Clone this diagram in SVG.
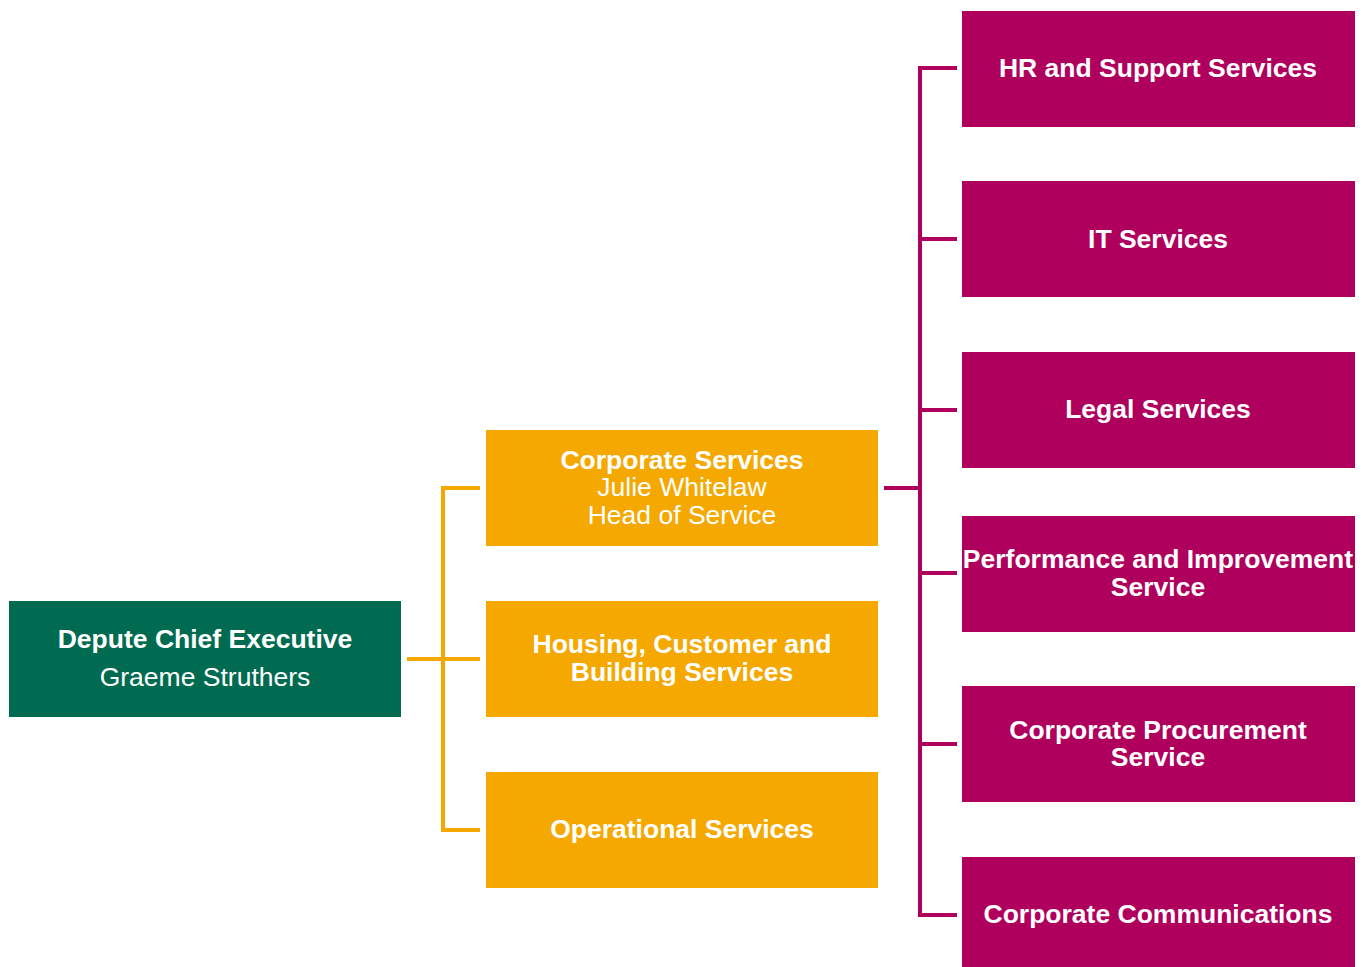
<svg xmlns="http://www.w3.org/2000/svg" width="1368" height="967" viewBox="0 0 1368 967">
<style>
.g{fill:#006b50}
.o{fill:#f5a800}
.m{fill:#b0005e}
text{font-family:"Liberation Sans",Arial,sans-serif;fill:#fff;text-anchor:middle;font-size:26.5px}
.b{font-weight:bold}
.oc{stroke:#f5a800;stroke-width:4;fill:none}
.mc{stroke:#b0005e;stroke-width:4;fill:none}
</style>
<rect width="1368" height="967" fill="#fff"/>
<g id="connectors">
<path class="oc" d="M407 659H443M480 488H443V830H480M443 659H480"/>
<path class="mc" d="M884 488H920M957 68H920V915H957M920 239H957M920 410H957M920 573H957M920 744H957"/>
</g>
<g id="dce"><rect class="g" x="9" y="601" width="392" height="116"/>
<text class="b" x="205" y="648">Depute Chief Executive</text>
<text x="205" y="686">Graeme Struthers</text></g>
<g id="corp"><rect class="o" x="486" y="430" width="392" height="116"/>
<text class="b" x="682" y="469">Corporate Services</text>
<text x="682" y="496">Julie Whitelaw</text>
<text x="682" y="524">Head of Service</text></g>
<g id="housing"><rect class="o" x="486" y="601" width="392" height="116"/>
<text class="b" x="682" y="653">Housing, Customer and</text>
<text class="b" x="682" y="681">Building Services</text></g>
<g id="ops"><rect class="o" x="486" y="772" width="392" height="116"/>
<text class="b" x="682" y="838">Operational Services</text></g>
<g id="hr"><rect class="m" x="962" y="11" width="393" height="116"/>
<text class="b" x="1158" y="77">HR and Support Services</text></g>
<g id="it"><rect class="m" x="962" y="181" width="393" height="116"/>
<text class="b" x="1158" y="248">IT Services</text></g>
<g id="legal"><rect class="m" x="962" y="352" width="393" height="116"/>
<text class="b" x="1158" y="418">Legal Services</text></g>
<g id="perf"><rect class="m" x="962" y="516" width="393" height="116"/>
<text class="b" x="1158" y="568">Performance and Improvement</text>
<text class="b" x="1158" y="596">Service</text></g>
<g id="proc"><rect class="m" x="962" y="686" width="393" height="116"/>
<text class="b" x="1158" y="739">Corporate Procurement</text>
<text class="b" x="1158" y="766">Service</text></g>
<g id="comms"><rect class="m" x="962" y="857" width="393" height="116"/>
<text class="b" x="1158" y="923">Corporate Communications</text></g>
</svg>
